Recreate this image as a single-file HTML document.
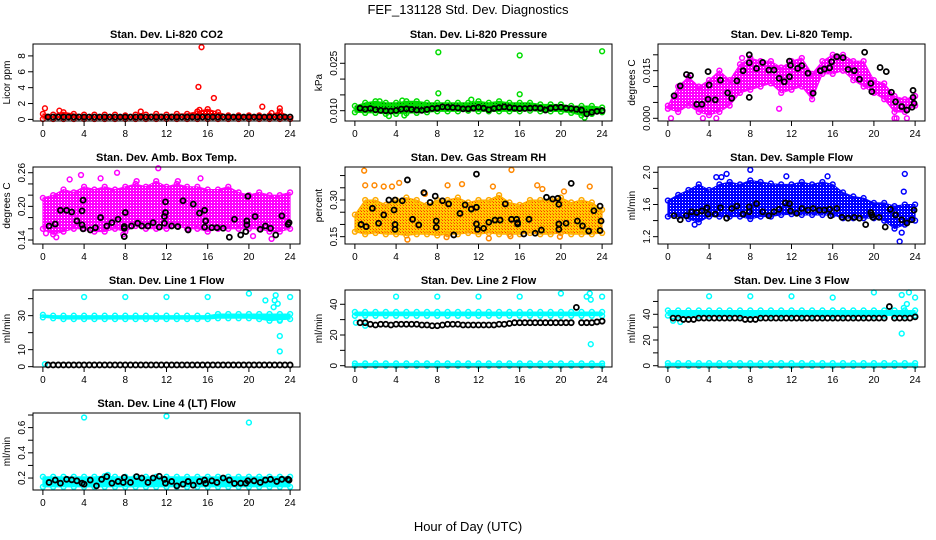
<!DOCTYPE html>
<html><head><meta charset="utf-8"><style>
html,body{margin:0;padding:0;background:#fff;}
svg{display:block;font-family:"Liberation Sans",sans-serif;}
</style></head><body>
<svg id="chart" width="936" height="540" viewBox="0 0 936 540">
<defs>
<pattern id="p-red" width="3" height="3" patternUnits="userSpaceOnUse"><rect width="3" height="3" fill="#ff0000"/><rect x="1" y="1" width="1" height="1" fill="#fff"/></pattern>
<pattern id="p-green" width="3" height="3" patternUnits="userSpaceOnUse"><rect width="3" height="3" fill="#00dd00"/><rect x="1" y="1" width="1" height="1" fill="#005500"/></pattern>
<pattern id="p-magenta" width="3" height="3" patternUnits="userSpaceOnUse"><rect width="3" height="3" fill="#ff00ff"/><rect x="1" y="1" width="1" height="1" fill="#fff"/></pattern>
<pattern id="p-orange" width="3" height="3" patternUnits="userSpaceOnUse"><rect width="3" height="3" fill="#ffcc00"/><rect x="1" y="1" width="1" height="1" fill="#ff3300"/><rect x="0" y="0" width="1" height="1" fill="#ff6600"/></pattern>
<pattern id="p-blue" width="3" height="3" patternUnits="userSpaceOnUse"><rect width="3" height="3" fill="#0000ff"/><rect x="1" y="1" width="1" height="1" fill="#fff"/></pattern>
<pattern id="p-cyan" width="3" height="3" patternUnits="userSpaceOnUse"><rect width="3" height="3" fill="#00ffff"/></pattern>
</defs>
<text x="468" y="14" text-anchor="middle" font-size="13">FEF_131128  Std. Dev. Diagnostics</text>
<text x="468" y="531" text-anchor="middle" font-size="13">Hour of Day (UTC)</text>
</svg>
<script>
const halfHours = [0.5,1,1.5,2,2.5,3,3.5,4,4.5,5,5.5,6,6.5,7,7.5,8,8.5,9,9.5,10,10.5,11,11.5,12,12.5,13,13.5,14,14.5,15,15.5,16,16.5,17,17.5,18,18.5,19,19.5,20,20.5,21,21.5,22,22.5,23,23.5,24];
const bandHours = [0,1,2,3,4,5,6,7,8,9,10,11,12,13,14,15,16,17,18,19,20,21,22,23,24];
const xTicks = [0,4,8,12,16,20,24];

const co2Lo = [0.05,0.05,0.05,0.05,0.05,0.05,0.05,0.05,0.05,0.05,0.05,0.05,0.05,0.05,0.05,0.05,0.05,0.05,0.05,0.05,0.05,0.05,0.05,0.05,0.05];
const co2Hi = [0.7,0.6,0.9,0.7,0.6,0.6,0.6,0.6,0.5,0.6,0.6,0.7,0.6,0.7,0.7,1.0,1.3,0.9,0.5,0.5,0.5,0.5,0.5,1.0,0.3];
const co2OutX = [0.2,9.5,15.1,15.4,16.6,21.3,22.2,23.0,15.2,1.6];
const co2OutY = [1.4,1.0,4.1,9.1,2.7,1.6,0.8,1.4,1.2,1.1];
const co2Black = [0.3,0.3,0.3,0.3,0.3,0.3,0.3,0.3,0.3,0.3,0.3,0.3,0.3,0.3,0.3,0.3,0.3,0.3,0.3,0.3,0.3,0.3,0.3,0.3,0.3,0.3,0.3,0.3,0.3,0.3,0.3,0.3,0.3,0.3,0.3,0.3,0.3,0.3,0.3,0.3,0.3,0.3,0.3,0.3,0.3,0.3,0.3,0.3];

const presLo = [0.0095,0.0093,0.0093,0.009,0.009,0.0092,0.0093,0.0095,0.0098,0.0098,0.0098,0.01,0.0098,0.0098,0.0098,0.0098,0.0098,0.01,0.0098,0.0098,0.0097,0.0093,0.0085,0.009,0.0095];
const presHi = [0.0115,0.0125,0.013,0.0125,0.0125,0.013,0.013,0.0125,0.0125,0.0125,0.0125,0.0125,0.013,0.0125,0.013,0.0125,0.0125,0.0125,0.012,0.012,0.012,0.0115,0.0115,0.0115,0.011];
const presOutX = [8.1,16.0,24.0,8.1,16.0,2.4,4.6,11.3,22.3,3.3,4.8];
const presOutY = [0.0285,0.0275,0.0288,0.0155,0.0152,0.013,0.0132,0.0135,0.0078,0.0083,0.0085];
const presBlack = [0.0108,0.0105,0.0107,0.0103,0.0101,0.0100,0.0099,0.0101,0.0105,0.0106,0.0104,0.0102,0.0101,0.0104,0.0107,0.0108,0.0112,0.0111,0.0110,0.0109,0.0106,0.0106,0.0108,0.0111,0.0108,0.0103,0.0107,0.0110,0.0112,0.0110,0.0108,0.0107,0.0107,0.0108,0.0109,0.0108,0.0102,0.0108,0.0110,0.0111,0.0108,0.0107,0.0105,0.0102,0.0090,0.0095,0.0098,0.0100];

const tempLo = [0.003,0.002,0.004,0.002,0.001,0.002,0.004,0.008,0.009,0.010,0.011,0.008,0.009,0.010,0.006,0.014,0.014,0.015,0.012,0.010,0.008,0.006,0.002,0.002,0.004];
const tempHi = [0.004,0.010,0.013,0.010,0.012,0.015,0.012,0.017,0.019,0.018,0.018,0.016,0.018,0.019,0.014,0.018,0.020,0.020,0.018,0.018,0.012,0.011,0.007,0.006,0.007];
const tempOutX = [0.3,3.4,4.7,22.0,22.2,23.2,10.8,7.2];
const tempOutY = [0,0,0,0,0,0,0.003,0.019];
const tempBlackX = [0.6,1.2,1.8,2.2,2.8,3.3,3.9,3.9,4.0,4.6,5.1,5.8,6.2,6.7,7.3,7.9,7.9,7.9,8.6,9.2,9.8,10.3,10.8,11.3,11.8,11.9,11.8,12.6,13.0,13.6,14.1,14.8,15.2,15.7,15.9,16.4,17.0,17.5,18.1,18.6,19.1,19.7,19.8,20.6,21.2,21.7,22.1,22.7,23.2,23.7,23.8,23.8,23.9];
const tempBlackY = [0.0071,0.0102,0.0138,0.0135,0.0044,0.0044,0.006,0.0147,0.0105,0.0058,0.012,0.008,0.0063,0.0118,0.015,0.02,0.0175,0.0066,0.0157,0.0176,0.0152,0.0152,0.0126,0.0115,0.018,0.0167,0.0131,0.0157,0.0166,0.0142,0.0079,0.015,0.0155,0.0159,0.0178,0.0194,0.0191,0.0154,0.015,0.0123,0.0208,0.011,0.0084,0.016,0.0147,0.0082,0.0052,0.0037,0.0026,0.0035,0.0066,0.0088,0.0047];

const ambLo = [0.16,0.15,0.155,0.16,0.16,0.155,0.155,0.16,0.155,0.165,0.16,0.16,0.16,0.165,0.16,0.16,0.155,0.16,0.16,0.16,0.16,0.16,0.155,0.155,0.16];
const ambHi = [0.215,0.22,0.23,0.225,0.235,0.23,0.235,0.23,0.235,0.24,0.235,0.245,0.235,0.24,0.235,0.235,0.23,0.23,0.235,0.225,0.22,0.225,0.22,0.22,0.225];
const ambOutX = [0.3,1.3,3.7,5.6,7.2,11.2,15.3,20.4,22.2,7.8,2.6,9.1,13.1];
const ambOutY = [0.152,0.145,0.256,0.25,0.26,0.268,0.25,0.147,0.142,0.15,0.248,0.245,0.245];
const ambBlackX = [0.6,1.2,1.7,2.3,2.8,3.3,3.8,3.9,3.8,3.9,4.6,5.1,5.6,6.2,6.7,7.3,7.9,7.9,7.9,8.0,8.6,9.2,9.6,10.2,10.7,11.3,11.8,11.8,11.9,11.9,12.5,13.1,13.6,14.1,14.6,15.2,15.7,15.8,15.7,16.4,16.9,17.5,18.1,18.6,19.2,19.7,19.8,19.8,19.9,20.6,21.1,21.6,22.1,22.6,23.2,23.9,23.8];
const ambBlackY = [0.165,0.1685,0.193,0.193,0.19,0.174,0.192,0.211,0.167,0.16,0.158,0.162,0.18,0.165,0.171,0.177,0.164,0.161,0.146,0.189,0.165,0.17,0.165,0.165,0.171,0.163,0.17,0.182,0.189,0.208,0.165,0.164,0.21,0.158,0.204,0.188,0.193,0.174,0.163,0.162,0.162,0.161,0.145,0.177,0.149,0.155,0.174,0.167,0.218,0.182,0.159,0.165,0.161,0.149,0.183,0.171,0.168];

const rhLo = [0.17,0.16,0.165,0.16,0.16,0.155,0.16,0.16,0.155,0.16,0.16,0.165,0.16,0.165,0.16,0.16,0.16,0.165,0.16,0.16,0.165,0.16,0.16,0.16,0.165];
const rhHi = [0.24,0.30,0.30,0.28,0.30,0.31,0.30,0.28,0.30,0.30,0.31,0.29,0.30,0.30,0.32,0.29,0.28,0.30,0.30,0.30,0.31,0.29,0.30,0.29,0.26];
const rhOutX = [0.9,1.0,1.9,2.8,3.6,4.3,6.8,9.0,10.4,13.4,15.2,17.7,18.2,20.3,22.8,5.1,13.0,15.1,8.9,19.9];
const rhOutY = [0.42,0.36,0.36,0.355,0.355,0.37,0.325,0.36,0.365,0.355,0.423,0.36,0.345,0.335,0.355,0.138,0.143,0.152,0.148,0.15];
const rhBlackX = [0.6,1.1,1.7,2.3,2.8,3.3,3.8,3.9,3.9,3.9,4.6,5.1,5.6,6.2,6.7,7.3,7.9,7.9,7.8,8.5,9.1,9.6,10.2,10.7,11.3,11.8,11.9,11.8,11.8,12.5,13.0,13.6,14.1,14.6,15.2,15.7,15.8,15.8,16.4,16.9,17.5,18.1,18.6,19.2,19.7,19.8,19.8,19.8,20.5,21.0,21.6,22.1,22.7,23.2,23.8,23.9,23.8];
const rhBlackY = [0.2,0.191,0.266,0.205,0.239,0.3,0.259,0.2,0.18,0.3,0.297,0.382,0.221,0.198,0.33,0.29,0.188,0.214,0.316,0.297,0.284,0.157,0.245,0.28,0.263,0.202,0.18,0.27,0.406,0.184,0.209,0.218,0.218,0.284,0.221,0.221,0.207,0.202,0.161,0.221,0.164,0.177,0.311,0.304,0.307,0.282,0.202,0.18,0.205,0.368,0.214,0.194,0.173,0.256,0.275,0.214,0.175];

const sfLo = [1.45,1.45,1.42,1.38,1.45,1.45,1.45,1.45,1.42,1.45,1.45,1.47,1.48,1.47,1.47,1.47,1.47,1.43,1.43,1.43,1.43,1.4,1.3,1.35,1.4];
const sfHi = [1.65,1.72,1.78,1.85,1.78,1.85,1.88,1.85,1.9,1.88,1.86,1.85,1.85,1.88,1.85,1.88,1.85,1.75,1.7,1.68,1.62,1.62,1.58,1.6,1.6];
const sfOutX = [5.7,8.0,11.5,15.5,23.0,22.9,22.7,22.5,2.6,4.7,5.2];
const sfOutY = [1.98,2.03,1.95,1.95,1.98,1.76,1.25,1.14,1.35,1.94,1.94];
const sfBlackX = [0.6,1.2,1.8,2.3,2.8,3.3,3.8,3.9,4.6,5.1,5.7,6.2,6.7,7.3,7.9,7.9,8.6,9.2,9.8,10.3,10.8,11.4,11.8,11.9,12.5,13.0,13.6,14.1,14.7,15.2,15.7,15.8,16.4,16.9,17.5,18.1,18.6,19.2,19.7,19.8,19.9,20.5,21.1,21.6,22.1,22.7,23.2,23.7,23.9];
const sfBlackY = [1.46,1.41,1.46,1.51,1.5,1.52,1.56,1.48,1.48,1.56,1.43,1.55,1.58,1.48,1.57,1.51,1.61,1.51,1.46,1.51,1.54,1.62,1.61,1.52,1.49,1.55,1.53,1.55,1.53,1.53,1.54,1.46,1.55,1.44,1.43,1.44,1.43,1.35,1.5,1.47,1.44,1.44,1.32,1.54,1.47,1.41,1.37,1.41,1.53];

const l1Lo = [29,28.5,28,28,28,28,28,28,28,28,28,28,28,28,28,28,28,28.5,28.5,28.5,28.5,28,27,27.5,28];
const l1Hi = [30.5,30,30,30,30,30,30,30,30,30,30,30,30,30,30,30,30,31,31,31,31,31,31,31,31];
const l1OutX = [4,8,12,16,20,24,22.6,22.5,22.4,22.8,21.6,23.0,23.0,23.0,0.2];
const l1OutY = [41,41,41,41,43,41,42,39,35,37,39,18,9,27,1.5];
const l1Black = [1,1,1,1,1,1,1,1,1,1,1,1,1,1,1,1,1,1,1,1,1,1,1,1,1,1,1,1,1,1,1,1,1,1,1,1,1,1,1,1,1,1,1,1,1,1,1,1];

const l2Lo = [32.5,32.5,32.5,32.5,32.5,32.5,32.5,32.5,32.5,32.5,32.5,32.5,32.5,32.5,32.5,32.5,32.5,32.5,32.5,32.5,32.5,32.5,32.5,32.5,32.5];
const l2Hi = [35,35,35,35,35,35,35,35,35,35,35,35,35,35,35,35,35,35,35,35,35,35,35,35,35];
const l2ZeroHi = [1.5,1.5,1.5,1.5,1.5,1.5,1.5,1.5,1.5,1.5,1.5,1.5,1.5,1.5,1.5,1.5,1.5,1.5,1.5,1.5,1.5,1.5,1.5,1.5,1.5];
const l2OutX = [4,8,12,16,20,24,22.8,22.9,22.5,22.9,0.1,1.0];
const l2OutY = [45,45,45,45,47,45,47,43,45,14,28,26];
const l2Black = [28,28,27,26.5,27,27,26.5,27,27,27,27,27,26.5,26.5,26,26,26.5,27,27,27,26.5,26.5,26.5,26.5,26.5,26.5,26.5,27,27,27.5,28,28,28,28,28,28,28,28,28,28,28,28,38,28,28,28,28.5,29];

const l3Lo = [39,39,39,39,39,39,39,39,39,39,39,39,39,39,39,39,39,39,39,39,39,39,39,39,39];
const l3Hi = [43,43,43,43,43,43,43,43,43,43,43,43,43,43,43,43,43,43,43,43,43,43,43,43,43];
const l3ZeroHi = [2,2,2,2,2,2,2,2,2,2,2,2,2,2,2,2,2,2,2,2,2,2,2,2,2];
const l3OutX = [4,8,12,16,20,22.7,23.2,22.9,22.7,23.4,24,0.5,1.2];
const l3OutY = [54,54,54,53,57,55,48,45,25,57,53,35,34];
const l3Black = [37,37,36,36,36,37,37,37,37,37,37,37,37,37,36,36,36,37,37,37,37,37,37,37,37,37,37,37,37,37,37,37,37,37,37,37,37,37,37,37,37,37,46,37,37,37,37,38];

const l4Lo = [0.13,0.13,0.13,0.13,0.13,0.13,0.13,0.13,0.13,0.13,0.13,0.13,0.13,0.13,0.13,0.13,0.13,0.13,0.13,0.13,0.13,0.13,0.13,0.13,0.13];
const l4Hi = [0.21,0.21,0.21,0.21,0.21,0.21,0.215,0.21,0.21,0.21,0.21,0.21,0.21,0.21,0.21,0.21,0.21,0.21,0.21,0.21,0.21,0.21,0.21,0.21,0.21];
const l4OutX = [4,12,20,6.3];
const l4OutY = [0.68,0.69,0.64,0.225];
const l4BlackX = [0.6,1.2,1.7,2.3,2.8,3.3,3.8,4.0,4.6,5.2,5.7,6.2,6.7,7.3,7.9,7.8,8.5,9.1,9.6,10.2,10.7,11.3,11.8,11.9,12.5,13.0,13.6,14.1,14.6,15.2,15.7,15.8,16.4,16.9,17.5,18.1,18.6,19.2,19.7,19.9,20.5,21.1,21.6,22.1,22.7,23.2,23.8,23.9];
const l4BlackY = [0.165,0.184,0.159,0.19,0.186,0.178,0.159,0.151,0.184,0.138,0.19,0.211,0.159,0.173,0.205,0.165,0.165,0.211,0.2,0.165,0.2,0.214,0.19,0.159,0.173,0.138,0.151,0.173,0.143,0.173,0.184,0.157,0.178,0.165,0.2,0.184,0.157,0.159,0.159,0.178,0.178,0.165,0.184,0.19,0.173,0.19,0.19,0.184];

const svg = document.getElementById('chart');
const NS = 'http://www.w3.org/2000/svg';
function mk(tag, attrs, parent){ const e=document.createElementNS(NS,tag); for(const k in attrs) e.setAttribute(k,attrs[k]); (parent||svg).appendChild(e); return e; }

const colsX = [33,345,658];
const rowsY = [44,167,290,413];
const W = 267, H = 77;

function panel(cfg){
  const L=colsX[cfg.col], T=rowsY[cfg.row], R=L+W, B=T+H;
  const g = mk('g',{});
  
  
  const xs = h => L + (h + 0.96) / 25.92 * W;
  const ys = v => B - (v - cfg.yMin) / (cfg.yMax - cfg.yMin) * H;
  const t = mk('text',{x:(L+R)/2,y:T-6,'text-anchor':'middle','font-size':'11','font-weight':'bold'},g);
  t.textContent = cfg.title;
  
  
  cfg.bands.forEach(b=>{
    let pts = bandHours.map((h,i)=>xs(h)+','+ys(b.hi[i]));
    pts = pts.concat(bandHours.slice().reverse().map((h,j)=>{const i=bandHours.length-1-j; return xs(h)+','+ys(b.lo[i]);}));
    const p = mk('polygon',{points:pts.join(' '),fill:'url(#'+b.pat+')',stroke:b.col,'stroke-width':'1','stroke-linejoin':'round'},g);
    
    
    bandHours.forEach((h,i)=>{
      [b.lo[i], b.hi[i]].forEach(v=>{
        const c = mk('circle',{cx:xs(h),cy:ys(v),r:2.4,fill:'none',stroke:b.col,'stroke-width':'1.5'},g);
        
        
      });
    });
  });
  cfg.outX.forEach((x,i)=>{
    const c = mk('circle',{cx:xs(x),cy:ys(cfg.outY[i]),r:2.4,fill:'none',stroke:cfg.color,'stroke-width':'1.5'},g);
    
    
  });
  cfg.bx.forEach((x,i)=>{
    const c = mk('circle',{cx:xs(x),cy:ys(cfg.by[i]),r:2.5,fill:'none',stroke:'#000','stroke-width':'1.8'},g);
    
    
  });
  const box = mk('rect',{x:L,y:T,width:W,height:H,fill:'none',stroke:'#000','stroke-width':'1'},g);
  
  
  mk('line',{x1:xs(0),x2:xs(24),y1:B,y2:B,stroke:'#000'},g);
  xTicks.forEach(v=>{
    mk('line',{x1:xs(v),x2:xs(v),y1:B,y2:B+5,stroke:'#000'},g);
    const tx = mk('text',{x:xs(v),y:B+16,'text-anchor':'middle','font-size':'10'},g);
    tx.textContent = v;
    
    
  });
  mk('line',{x1:L,x2:L,y1:ys(cfg.yTicks[0]),y2:ys(cfg.yTicks[cfg.yTicks.length-1]),stroke:'#000'},g);
  cfg.yTicks.forEach(v=>mk('line',{x1:L-5,x2:L,y1:ys(v),y2:ys(v),stroke:'#000'},g));
  cfg.yLabels.forEach(v=>{
    const ty = ys(v);
    const tx = mk('text',{x:L-8,y:ty,'text-anchor':'middle','font-size':'10',transform:'rotate(-90 '+(L-8)+' '+ty+')'},g);
    tx.textContent = v.toFixed(cfg.dec);
    
    
  });
  const yl = L-23, yc=(T+B)/2;
  const yt = mk('text',{x:yl,y:yc,'text-anchor':'middle','font-size':'10',transform:'rotate(-90 '+yl+' '+yc+')'},g);
  yt.textContent = cfg.yTitle;
  
  
}

panel({name:'panel-co2',title:'Stan. Dev. Li-820 CO2',col:0,row:0,yMin:-0.2,yMax:9.5,yTicks:[0,2,4,6,8],yLabels:[0,2,4,6,8],dec:0,yTitle:'Licor ppm',color:'#ff0000',
  bands:[{lo:co2Lo,hi:co2Hi,pat:'p-red',col:'#ff0000'}],outX:co2OutX,outY:co2OutY,bx:halfHours,by:co2Black});
panel({name:'panel-pressure',title:'Stan. Dev. Li-820 Pressure',col:1,row:0,yMin:0.00674,yMax:0.0311,yTicks:[0.010,0.015,0.020,0.025],yLabels:[0.010,0.025],dec:3,yTitle:'kPa',color:'#00dd00',
  bands:[{lo:presLo,hi:presHi,pat:'p-green',col:'#00dd00'}],outX:presOutX,outY:presOutY,bx:halfHours,by:presBlack});
panel({name:'panel-li820-temp',title:'Stan. Dev. Li-820 Temp.',col:2,row:0,yMin:-0.00085,yMax:0.0234,yTicks:[0,0.005,0.010,0.015,0.020],yLabels:[0,0.015],dec:3,yTitle:'degrees C',color:'#ff00ff',
  bands:[{lo:tempLo,hi:tempHi,pat:'p-magenta',col:'#ff00ff'}],outX:tempOutX,outY:tempOutY,bx:tempBlackX,by:tempBlackY});
panel({name:'panel-amb-box-temp',title:'Stan. Dev. Amb. Box Temp.',col:0,row:1,yMin:0.1329,yMax:0.2702,yTicks:[0.14,0.16,0.18,0.20,0.22,0.24,0.26],yLabels:[0.14,0.20,0.26],dec:2,yTitle:'degrees C',color:'#ff00ff',
  bands:[{lo:ambLo,hi:ambHi,pat:'p-magenta',col:'#ff00ff'}],outX:ambOutX,outY:ambOutY,bx:ambBlackX,by:ambBlackY});
panel({name:'panel-gas-rh',title:'Stan. Dev. Gas Stream RH',col:1,row:1,yMin:0.120,yMax:0.435,yTicks:[0.15,0.20,0.25,0.30,0.35,0.40],yLabels:[0.15,0.30],dec:2,yTitle:'percent',color:'#ff8800',
  bands:[{lo:rhLo,hi:rhHi,pat:'p-orange',col:'#ffaa00'}],outX:rhOutX,outY:rhOutY,bx:rhBlackX,by:rhBlackY});
panel({name:'panel-sample-flow',title:'Stan. Dev. Sample Flow',col:2,row:1,yMin:1.109,yMax:2.066,yTicks:[1.2,1.4,1.6,1.8,2.0],yLabels:[1.2,1.6,2.0],dec:1,yTitle:'ml/min',color:'#0000ff',
  bands:[{lo:sfLo,hi:sfHi,pat:'p-blue',col:'#0000ff'}],outX:sfOutX,outY:sfOutY,bx:sfBlackX,by:sfBlackY});
panel({name:'panel-line1-flow',title:'Stan. Dev. Line 1 Flow',col:0,row:2,yMin:-0.2,yMax:45.1,yTicks:[0,10,20,30,40],yLabels:[0,10,30],dec:0,yTitle:'ml/min',color:'#00ffff',
  bands:[{lo:l1Lo,hi:l1Hi,pat:'p-cyan',col:'#00ffff'}],outX:l1OutX,outY:l1OutY,bx:halfHours,by:l1Black});
panel({name:'panel-line2-flow',title:'Stan. Dev. Line 2 Flow',col:1,row:2,yMin:-0.85,yMax:49.3,yTicks:[0,10,20,30,40],yLabels:[0,20,40],dec:0,yTitle:'ml/min',color:'#00ffff',
  bands:[{lo:l2Lo,hi:l2Hi,pat:'p-cyan',col:'#00ffff'},{lo:l4Lo.map(()=>0),hi:l2ZeroHi,pat:'p-cyan',col:'#00ffff'}],outX:l2OutX,outY:l2OutY,bx:halfHours,by:l2Black});
panel({name:'panel-line3-flow',title:'Stan. Dev. Line 3 Flow',col:2,row:2,yMin:-1,yMax:58.9,yTicks:[0,10,20,30,40,50],yLabels:[0,20,40],dec:0,yTitle:'ml/min',color:'#00ffff',
  bands:[{lo:l3Lo,hi:l3Hi,pat:'p-cyan',col:'#00ffff'},{lo:l4Lo.map(()=>0),hi:l3ZeroHi,pat:'p-cyan',col:'#00ffff'}],outX:l3OutX,outY:l3OutY,bx:halfHours,by:l3Black});
panel({name:'panel-line4-flow',title:'Stan. Dev. Line 4 (LT) Flow',col:0,row:3,yMin:0.105,yMax:0.716,yTicks:[0.2,0.3,0.4,0.5,0.6,0.7],yLabels:[0.2,0.4,0.6],dec:1,yTitle:'ml/min',color:'#00ffff',
  bands:[{lo:l4Lo,hi:l4Hi,pat:'p-cyan',col:'#00ffff'}],outX:l4OutX,outY:l4OutY,bx:l4BlackX,by:l4BlackY});
</script>
</body></html>
